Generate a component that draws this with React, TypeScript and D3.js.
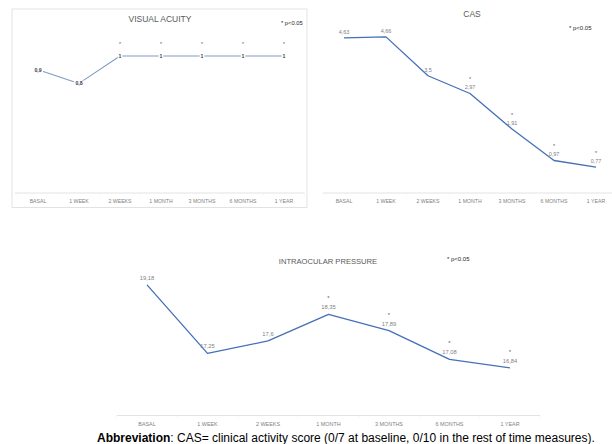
import React from "react";
import * as d3 from "d3";

const categories = ["BASAL", "1 WEEK", "2 WEEKS", "1 MONTH", "3 MONTHS", "6 MONTHS", "1 YEAR"];

const vaValues = [0.9, 0.8, 1, 1, 1, 1, 1];
const vaLabels = ["0,9", "0,8", "1", "1", "1", "1", "1"];
const vaSig = [false, false, true, true, true, true, true];

const casValues = [4.63, 4.66, 3.5, 2.97, 1.91, 0.97, 0.77];
const casLabels = ["4,63", "4,66", "3,5", "2,97", "1,91", "0,97", "0,77"];
const casSig = [false, false, false, true, true, true, true];

const iopValues = [19.18, 17.25, 17.6, 18.35, 17.89, 17.08, 16.84];
const iopLabels = ["19,18", "17,25", "17,6", "18,35", "17,89", "17,08", "16,84"];
const iopSig = [false, false, false, true, true, true, true];

const FONT = "'Liberation Sans', Arial, sans-serif";

type ChartProps = {
  values: number[];
  labels: string[];
  sig: boolean[];
  xRange: [number, number];
  axisX: [number, number];
  yDomain: [number, number];
  yRange: [number, number];
  title: string;
  titleX: number;
  titleY: number;
  titleSize: number;
  pX: number;
  pY: number;
  pSize: number;
  lineColor: string;
  lineWidth: number;
  labelMode: "center" | "above";
  labelSize: number;
  labelColor: string;
  labelWeight: number;
  labelOffset: number;
  starOffset: number;
  tickSize: number;
};

function LineChart(p: ChartProps) {
  const x = d3.scaleBand<string>().domain(categories).range(p.xRange);
  const y = d3.scaleLinear().domain(p.yDomain).range(p.yRange);
  const cx = (c: string) => (x(c) as number) + x.bandwidth() / 2;
  const pts: [number, number][] = p.values.map((v, i) => [cx(categories[i]), y(v)]);
  const line = d3.line<[number, number]>().x((d) => d[0]).y((d) => d[1]);
  const axisY = y(p.yDomain[0]);
  const bounds = [...categories.map((c) => x(c) as number), p.xRange[1]];
  return (
    <g>
      <line x1={p.axisX[0]} x2={p.axisX[1]} y1={axisY} y2={axisY} stroke="#d9d9d9" strokeWidth={0.75} />
      {bounds.map((b, i) => (
        <line key={i} x1={b} x2={b} y1={axisY} y2={axisY + 2.5} stroke="#ececec" strokeWidth={0.5} />
      ))}
      {categories.map((c) => (
        <text key={c} x={cx(c)} y={axisY + 10} textAnchor="middle" fontSize={p.tickSize} fill="#7f7f7f" fontFamily={FONT}>
          {c}
        </text>
      ))}
      <path d={line(pts) || ""} fill="none" stroke={p.lineColor} strokeWidth={p.lineWidth} strokeLinejoin="round" />
      {pts.map((pt, i) => {
        const lbl = p.labels[i];
        const w = lbl.length * p.labelSize * 0.5 + 2;
        const ly = p.labelMode === "center" ? pt[1] : pt[1] - p.labelOffset;
        return (
          <g key={i}>
            {p.labelMode === "center" && (
              <rect x={pt[0] - w / 2} y={pt[1] - p.labelSize * 0.55} width={w} height={p.labelSize * 1.1} fill="#fff" />
            )}
            <text
              x={pt[0]}
              y={ly}
              dy="0.35em"
              textAnchor="middle"
              fontSize={p.labelSize}
              fill={p.labelColor}
              fontWeight={p.labelWeight}
              fontFamily={FONT}
            >
              {lbl}
            </text>
            {p.sig[i] && (
              <text x={pt[0]} y={pt[1] - p.starOffset} dy="0.35em" textAnchor="middle" fontSize={p.labelSize} fill="#595959" fontFamily={FONT}>
                *
              </text>
            )}
          </g>
        );
      })}
      <text x={p.titleX} y={p.titleY} textAnchor="middle" fontSize={p.titleSize} fill="#595959" fontFamily={FONT}>
        {p.title}
      </text>
      <text x={p.pX} y={p.pY} fontSize={p.pSize} fill="#262626" fontFamily={FONT}>
        * p&lt;0.05
      </text>
    </g>
  );
}

export default function App() {
  return (
    <svg width={612} height={444} style={{ position: "absolute", left: 0, top: 0, background: "#fff" }}>
      <rect x={0} y={0} width={612} height={444} fill="#fff" />
      <rect x={12} y={9} width={295} height={198.5} fill="#fff" stroke="#d9d9d9" strokeWidth={0.75} />
      <LineChart
        values={vaValues}
        labels={vaLabels}
        sig={vaSig}
        xRange={[17.5, 304.5]}
        axisX={[15, 304.5]}
        yDomain={[0, 1.2]}
        yRange={[193, 28.6]}
        title="VISUAL ACUITY"
        titleX={160}
        titleY={21.5}
        titleSize={8.5}
        pX={281}
        pY={25}
        pSize={5.8}
        lineColor="#7f9cc8"
        lineWidth={1.1}
        labelMode="center"
        labelSize={5.2}
        labelColor="#404040"
        labelWeight={700}
        labelOffset={0}
        starOffset={12}
        tickSize={5.2}
      />
      <LineChart
        values={casValues}
        labels={casLabels}
        sig={casSig}
        xRange={[323, 617]}
        axisX={[323, 612]}
        yDomain={[0, 5]}
        yRange={[193, 25.5]}
        title="CAS"
        titleX={472}
        titleY={17}
        titleSize={8.5}
        pX={569}
        pY={30}
        pSize={6}
        lineColor="#4470b8"
        lineWidth={1.3}
        labelMode="above"
        labelSize={5.5}
        labelColor="#7f7f7f"
        labelWeight={400}
        labelOffset={6}
        starOffset={14}
        tickSize={5.2}
      />
      <LineChart
        values={iopValues}
        labels={iopLabels}
        sig={iopSig}
        xRange={[116.75, 540.25]}
        axisX={[116.75, 540.25]}
        yDomain={[15.5, 19.5]}
        yRange={[415.5, 273.5]}
        title="INTRAOCULAR PRESSURE"
        titleX={328}
        titleY={263.5}
        titleSize={7.6}
        pX={447}
        pY={261}
        pSize={6}
        lineColor="#4470b8"
        lineWidth={1.3}
        labelMode="above"
        labelSize={5.8}
        labelColor="#7f7f7f"
        labelWeight={400}
        labelOffset={7}
        starOffset={16}
        tickSize={5.4}
      />
      <text x={97} y={441.5} fontSize={12} fill="#000" fontFamily={FONT}>
        <tspan fontWeight={700}>Abbreviation</tspan>
        <tspan>: CAS= clinical activity score (0/7 at baseline, 0/10 in the rest of time measures).</tspan>
      </text>
    </svg>
  );
}
